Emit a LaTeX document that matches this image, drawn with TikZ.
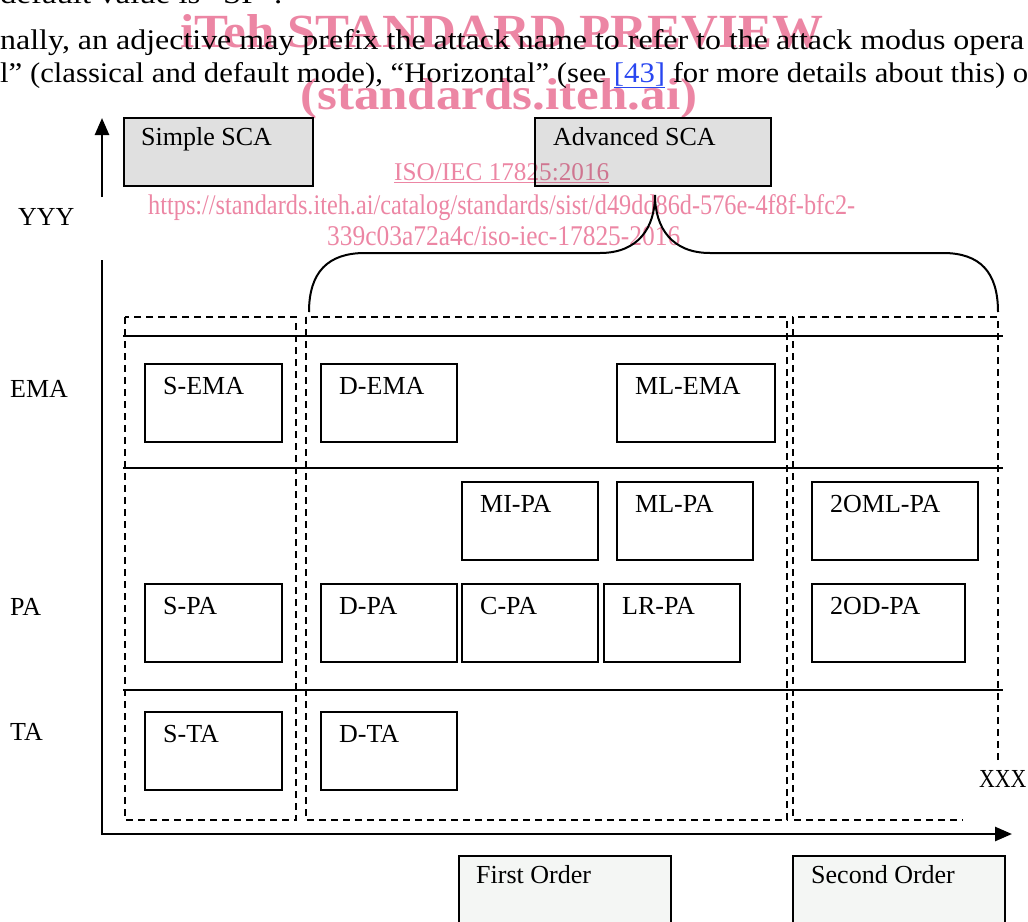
\documentclass[tikz,border=0pt]{standalone}
\usepackage{fontspec}
\setmainfont{Liberation Serif}
\usetikzlibrary{arrows.meta}
\definecolor{wmpink}{RGB}{236,134,164}
\definecolor{linkblue}{RGB}{40,70,240}
\definecolor{scagray}{RGB}{224,224,224}
\definecolor{ordergray}{RGB}{244,246,244}
\newcommand\attackcell[6]{%
  \node[cell, minimum width=#4pt, minimum height=#5pt] (#1) at (#2,#3) {};
  \node[celltext] (#1-t) at ([shift={(18,30)}]#1.north west) {#6};}
\begin{document}
\begin{tikzpicture}[x=1pt,y=-1pt,
  cell/.style={draw, line width=1.6pt, anchor=north west, inner sep=0, outer sep=0},
  headbox/.style={cell, fill=scagray, line width=1.9pt},
  orderbox/.style={cell, fill=ordergray, line width=1.7pt},
  celltext/.style={anchor=base west, inner sep=0, font=\fontsize{26}{30}\selectfont},
  bodytext/.style={anchor=base west, inner sep=0},
  wmtext/.style={anchor=base west, inner sep=0, text=wmpink},
  rowline/.style={line width=1.5pt},
  groupline/.style={line width=1.4pt, dash pattern=on 7pt off 5pt},
  axisline/.style={line width=2.6pt, line join=miter},
  bracket/.style={line width=2pt},
  tip/.style={-{Triangle[length=17pt,width=14pt]}}]
\useasboundingbox (0,0) rectangle (1028,921);
\clip (0,0) rectangle (1028,921);

% running paragraph above the figure
\node[bodytext] (para1) at (0,3)
  {\resizebox{282pt}{20pt}{\fontsize{30}{33}\selectfont default value is “SP”.}};
\node[bodytext] (para2) at (0,49)
  {\resizebox{1024pt}{20pt}{\fontsize{30}{33}\selectfont nally, an adjective may prefix the attack name to refer to the attack modus opera}};
\node[bodytext] (para3) at (0,82)
  {\resizebox{1028pt}{20pt}{\fontsize{30}{33}\selectfont l” (classical and default mode), “Horizontal” (see \textcolor{linkblue}{\underline{[43]}} for more details about this) o}};

% category headers
\node[headbox, minimum width=189pt, minimum height=68pt] (simplesca) at (124,118) {};
\node[celltext] (simplesca-t) at ([shift={(17,27)}]simplesca.north west) {Simple SCA};
\node[headbox, minimum width=236pt, minimum height=68pt] (advsca) at (535,118) {};
\node[celltext] (advsca-t) at ([shift={(18,27)}]advsca.north west) {Advanced SCA};

% order boxes below the horizontal axis
\node[orderbox, minimum width=212pt, minimum height=90pt] (firstorder) at (459,856) {};
\node[celltext] (firstorder-t) at ([shift={(17,27)}]firstorder.north west) {First Order};
\node[orderbox, minimum width=212pt, minimum height=90pt] (secondorder) at (793,856) {};
\node[celltext] (secondorder-t) at ([shift={(18,27)}]secondorder.north west) {Second Order};

% axes
\coordinate (ylow) at (102,197);
\coordinate (yhigh) at (102,118);
\coordinate (yaxis) at (102,260);
\coordinate (orig) at (102,834);
\coordinate (xend) at (1012,834);
\draw[axisline, tip] (ylow) -- (yhigh);
\draw[axisline, tip] (yaxis) -- (orig) -- (xend);
\node[celltext] (yyy) at (18,225) {YYY};
\node[celltext] (xxx) at (979,787) {\scalebox{0.84}[1]{XXX}};

% row labels and row separators
\node[celltext] (ema) at (10,397) {EMA};
\node[celltext] (pa) at (10,615) {PA};
\node[celltext] (ta) at (10,740) {TA};
\draw[rowline] (123,336) -- (1003,336);
\draw[rowline] (123,468) -- (1003,468);
\draw[rowline] (123,690) -- (1003,690);

% attack groups
\draw[groupline] (125,317) rectangle (296,820);
\draw[groupline] (306,317) rectangle (787,820);
\draw[groupline] (998,760) -- (998,317) -- (793,317) -- (793,820) -- (963,820);

% attacks
\attackcell{sema}{145}{364}{137}{78}{S-EMA}
\attackcell{dema}{321}{364}{136}{78}{D-EMA}
\attackcell{mlema}{617}{364}{158}{78}{ML-EMA}
\attackcell{mipa}{462}{482}{136}{78}{MI-PA}
\attackcell{mlpa}{617}{482}{136}{78}{ML-PA}
\attackcell{twoomlpa}{812}{482}{166}{78}{2OML-PA}
\attackcell{spa}{145}{584}{137}{78}{S-PA}
\attackcell{dpa}{321}{584}{136}{78}{D-PA}
\attackcell{cpa}{462}{584}{136}{78}{C-PA}
\attackcell{lrpa}{604}{584}{136}{78}{LR-PA}
\attackcell{twoodpa}{812}{584}{153}{78}{2OD-PA}
\attackcell{sta}{145}{712}{137}{78}{S-TA}
\attackcell{dta}{321}{712}{136}{78}{D-TA}

% brace grouping the advanced attacks
\coordinate (bracetip) at ([shift={(2,9)}]advsca.south);
\coordinate (braceleft) at (309,312);
\coordinate (braceright) at (998,312);
\draw[bracket] (braceleft) .. controls (309,272) and (328,253) .. (365,253)
  -- (600,253) .. controls (638,253) and (655,228) .. (bracetip)
  .. controls (655,228) and (672,253) .. (710,253)
  -- (943,253) .. controls (980,253) and (998,272) .. (braceright);

% publisher watermark
\begin{scope}[blend mode=multiply]
\node[wmtext] (wm1) at (180,47)
  {\resizebox{643pt}{33pt}{\fontsize{48}{50}\selectfont\bfseries iTeh STANDARD PREVIEW}};
\node[wmtext] (wm2) at (300,109)
  {\resizebox{397pt}{31pt}{\fontsize{45}{50}\selectfont\bfseries (standards.iteh.ai)}};
\node[wmtext] (wm3) at (394,180)
  {\resizebox{215pt}{17pt}{\fontsize{25}{28}\selectfont\underline{ISO/IEC 17825:2016}}};
\node[wmtext] (wm4) at (148,214)
  {\resizebox{707pt}{20pt}{\fontsize{28}{30}\selectfont https://standards.iteh.ai/catalog/standards/sist/d49dd86d-576e-4f8f-bfc2-}};
\node[wmtext] (wm5) at (327,245)
  {\resizebox{353pt}{19pt}{\fontsize{28}{30}\selectfont 339c03a72a4c/iso-iec-17825-2016}};
\end{scope}
\end{tikzpicture}
\end{document}
